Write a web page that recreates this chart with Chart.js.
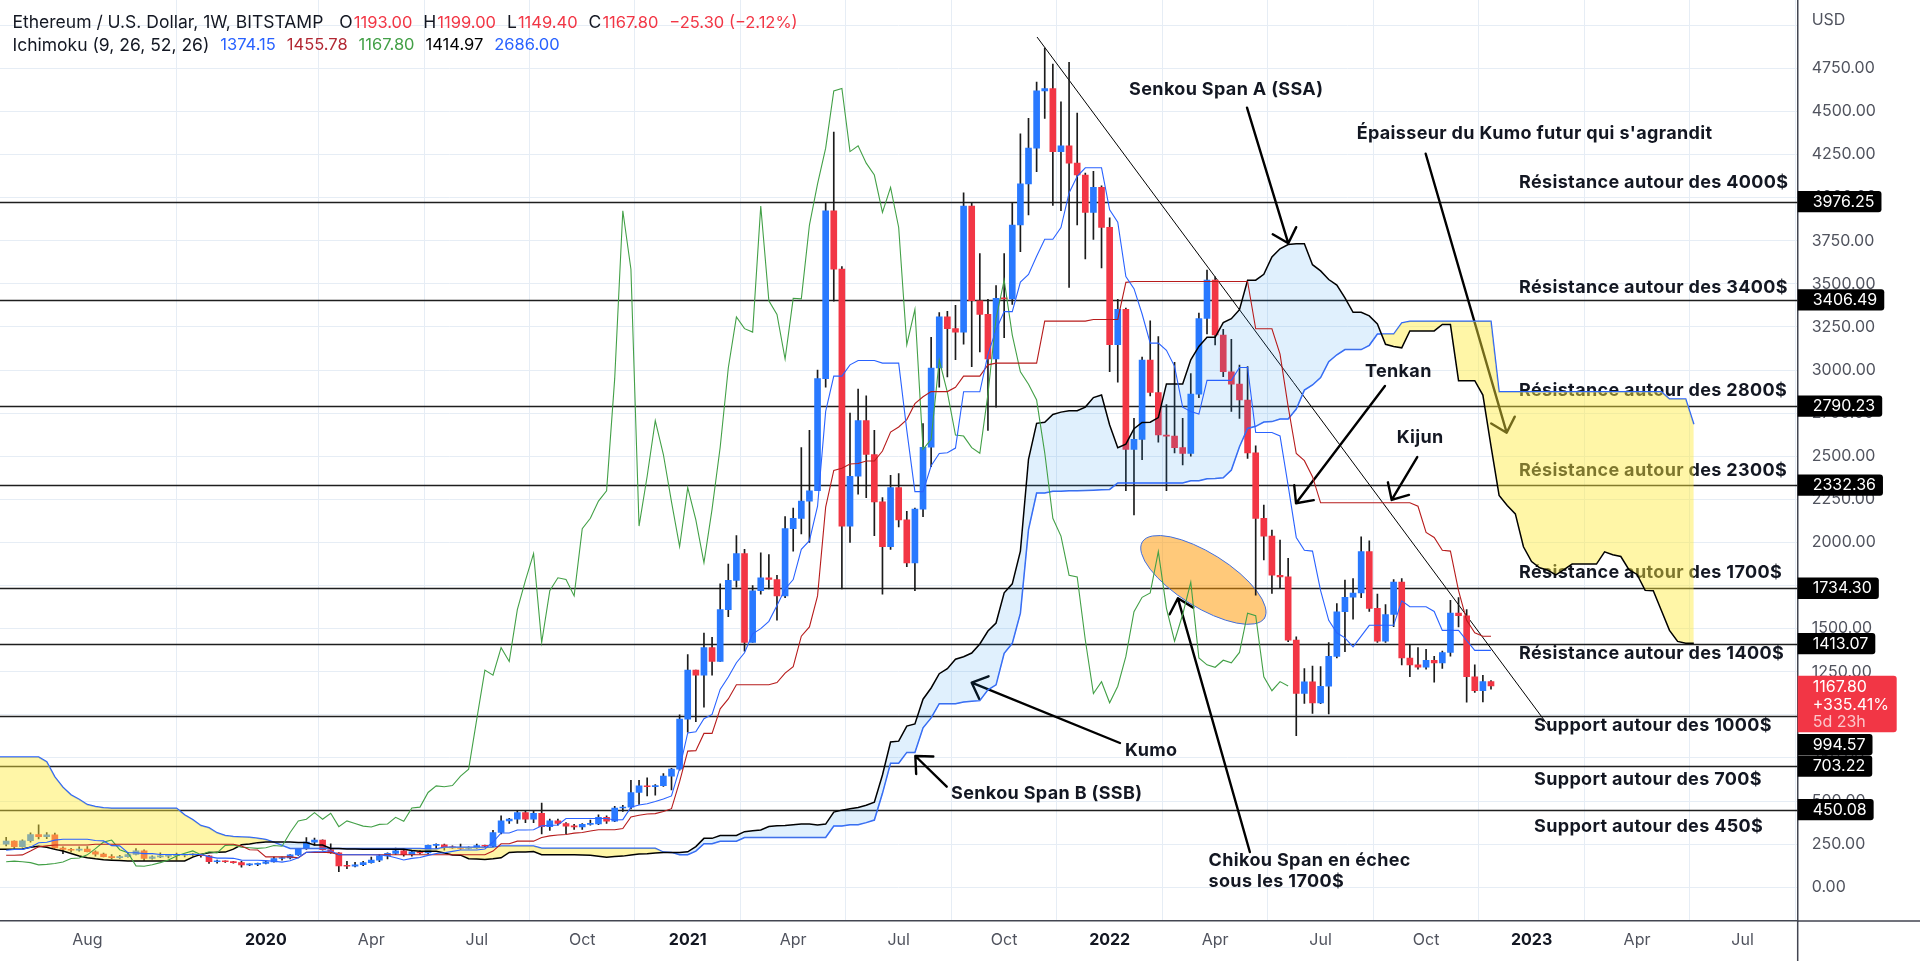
<!DOCTYPE html>
<html lang="fr">
<head>
<meta charset="utf-8">
<title>ETH/USD 1W Ichimoku</title>
<script src="https://cdn.jsdelivr.net/npm/chart.js@4.4.1/dist/chart.umd.min.js"></script>
<style>
html, body { margin: 0; padding: 0; background: #fff; overflow: hidden; }
canvas { display: block; }
</style>
</head>
<body>
<canvas id="eth" width="1920" height="961"></canvas>
<script>
// weekly candles ETH/USD (Bitstamp), week 0 = 27 May 2019, last = 28 Nov 2022
const opens = [
  250, 268, 236, 270, 306, 293, 305, 228, 220, 215,
  222, 206, 192, 178, 172, 178, 190, 212, 168, 176,
  180, 184, 186, 188, 190, 183, 148, 152, 148, 143,
  130, 133, 138, 147, 167, 170, 188, 224, 262, 274,
  218, 200, 124, 122, 131, 143, 158, 182, 197, 211,
  189, 206, 200, 243, 246, 233, 229, 226, 229, 242,
  238, 318, 385, 395, 433, 395, 429, 352, 385, 370,
  355, 350, 365, 367, 406, 383, 460, 465, 550, 588,
  583, 590, 645, 685, 975, 1260, 1230, 1390, 1310, 1610,
  1780, 1935, 1420, 1720, 1795, 1785, 1690, 2080, 2140, 2240,
  2300, 2950, 3924, 3585, 2095, 2384, 2707, 2510, 2235, 1976,
  2318, 2131, 1882, 2193, 2552, 3012, 3308, 3240, 3220, 3951,
  3402, 3323, 3064, 3416, 3413, 3841, 4080, 4287, 4619, 4633,
  4267, 4301, 4200, 4131, 3914, 4059, 3827, 3147, 3352, 2540,
  2598, 3058, 2870, 2623, 2617, 2550, 2517, 2860, 3299, 3522,
  3203, 2990, 2918, 2826, 2520, 2140, 2037, 1810, 1800, 1434,
  1124, 1192, 1070, 1166, 1339, 1598, 1682, 1707, 1947, 1618,
  1428, 1582, 1770, 1330, 1290, 1276, 1317, 1302, 1362, 1590,
  1575, 1221, 1140, 1193
]
const highs = [
  290, 270, 275, 316, 362, 318, 315, 235, 226, 235,
  236, 212, 198, 190, 185, 200, 225, 218, 182, 200,
  190, 198, 192, 197, 192, 185, 158, 153, 150, 150,
  136, 140, 150, 175, 175, 190, 225, 288, 285, 276,
  252, 202, 150, 145, 150, 175, 190, 200, 227, 215,
  215, 215, 245, 252, 250, 240, 250, 235, 250, 245,
  330, 415, 400, 445, 440, 440, 488, 395, 395, 375,
  365, 370, 390, 420, 415, 470, 475, 620, 620, 635,
  595, 660, 690, 1000, 1350, 1260, 1475, 1450, 1760, 1875,
  2040, 1960, 1750, 1940, 1930, 1810, 2150, 2200, 2550, 2650,
  3000, 3970, 4380, 3600, 2750, 2890, 2850, 2650, 2260, 2390,
  2400, 2180, 2200, 2690, 3190, 3333, 3340, 3375, 4028, 3970,
  3676, 3410, 3490, 3676, 3970, 4370, 4460, 4670, 4867, 4774,
  4556, 4784, 4490, 4142, 4152, 4069, 3883, 3410, 3360, 2720,
  3075, 3286, 3194, 2800, 3045, 2720, 2980, 3330, 3580, 3540,
  3236, 3178, 3029, 3020, 2560, 2217, 2072, 2014, 1908, 1453,
  1269, 1283, 1280, 1420, 1646, 1782, 1790, 2033, 2010, 1700,
  1640, 1785, 1790, 1405, 1390, 1380, 1340, 1370, 1665, 1680,
  1610, 1290, 1230, 1199
]
const lows = [
  240, 226, 232, 262, 280, 282, 225, 195, 205, 210,
  205, 180, 176, 165, 168, 175, 188, 155, 163, 172,
  170, 158, 176, 180, 175, 138, 140, 144, 140, 117,
  125, 126, 136, 145, 158, 165, 185, 220, 245, 215,
  196, 90, 108, 118, 125, 140, 148, 165, 190, 180,
  180, 193, 195, 225, 215, 225, 220, 222, 225, 230,
  235, 310, 370, 370, 375, 375, 310, 330, 360, 310,
  335, 335, 360, 363, 370, 380, 440, 455, 480, 530,
  535, 585, 565, 680, 900, 960, 1045, 1230, 1310, 1570,
  1740, 1370, 1420, 1700, 1730, 1550, 1680, 1950, 2050, 2000,
  2300, 2900, 3400, 1730, 2000, 2280, 2260, 2040, 1700, 1960,
  2090, 1860, 1720, 2150, 2440, 2900, 2960, 3060, 3150, 3020,
  3105, 2650, 2785, 3188, 3380, 3686, 3900, 4150, 4460, 3955,
  3924, 3479, 3841, 3644, 3758, 3593, 2991, 2930, 2300, 2160,
  2480, 2850, 2581, 2300, 2520, 2449, 2500, 2840, 3210, 3145,
  2962, 2760, 2720, 2488, 1695, 1898, 1705, 1734, 1424, 880,
  1066, 1008, 1065, 1006, 1330, 1366, 1555, 1680, 1600, 1420,
  1420, 1511, 1290, 1221, 1265, 1265, 1190, 1270, 1340, 1510,
  1073, 1130, 1075, 1149.4
]
const closes = [
  268, 236, 270, 306, 293, 305, 228, 220, 215, 222,
  206, 192, 178, 172, 178, 190, 212, 168, 176, 180,
  184, 186, 188, 190, 183, 148, 152, 148, 143, 130,
  133, 138, 147, 167, 170, 188, 224, 262, 274, 218,
  200, 124, 122, 131, 143, 158, 182, 197, 211, 189,
  206, 200, 243, 246, 233, 229, 226, 229, 242, 238,
  318, 385, 395, 433, 395, 429, 352, 385, 370, 355,
  350, 365, 367, 406, 383, 460, 465, 550, 588, 583,
  590, 645, 685, 975, 1260, 1230, 1390, 1310, 1610, 1780,
  1935, 1420, 1720, 1795, 1785, 1690, 2080, 2140, 2240, 2300,
  2950, 3924, 3585, 2095, 2384, 2707, 2510, 2235, 1976, 2318,
  2131, 1882, 2193, 2552, 3012, 3308, 3240, 3220, 3951, 3402,
  3323, 3064, 3416, 3413, 3841, 4080, 4287, 4619, 4633, 4267,
  4301, 4200, 4131, 3914, 4059, 3827, 3147, 3352, 2540, 2598,
  3058, 2870, 2623, 2617, 2550, 2517, 2860, 3299, 3522, 3203,
  2990, 2918, 2826, 2520, 2140, 2037, 1810, 1800, 1434, 1124,
  1192, 1070, 1166, 1339, 1598, 1682, 1707, 1947, 1618, 1428,
  1582, 1770, 1330, 1290, 1276, 1317, 1302, 1362, 1590, 1575,
  1221, 1140, 1193.1, 1167.8
]

// ichimoku lines as read on the chart
const tenkan = [
  215, 220, 220, 233, 258.5, 261, 273.5, 278.5, 278.5, 278.5,
  278.5, 271, 269, 241.5, 240, 200.5, 200.5, 195.5, 195.5, 190,
  190, 190, 190, 190, 190, 178, 169, 169, 168, 157.5,
  157, 157, 154.5, 151, 146, 153.5, 171, 202.5, 206.5, 207,
  212, 189, 189, 189, 189, 189, 187.5, 183, 171, 158.5,
  167.5, 172.5, 185, 196, 200, 208.5, 216, 216, 216, 222.5,
  262.5, 315, 315, 332.5, 332.5, 333.5, 356.5, 359, 361.5, 399,
  399, 399, 399, 399, 399, 390, 392.5, 465, 477.5, 485,
  497.5, 511.5, 530, 690, 895, 902.5, 977.5, 1002.5, 1147.5, 1220,
  1302.5, 1360, 1470, 1500, 1542.5, 1635, 1730, 1785, 1960, 2010,
  2210, 2760, 2965, 2965, 3030, 3055, 3055, 3055, 3040, 3040,
  3040, 2650, 2295, 2295, 2445, 2516.5, 2520, 2547.5, 2874, 2874,
  2874, 3089, 3234, 3339, 3339, 3510, 3555, 3660, 3758.5, 3758.5,
  3826, 4027.5, 4123.5, 4173, 4173, 4173, 3929, 3857, 3542, 3472,
  3325, 3156, 3156, 3114.5, 3021.5, 2785, 2760, 2745, 2940, 2940,
  2940, 2940, 3014.5, 3014.5, 2637.5, 2637.5, 2637.5, 2617.5, 2330, 2029,
  1954.5, 1950, 1720, 1548.5, 1476, 1447, 1394, 1456.5, 1519.5, 1519.5,
  1519.5, 1519.5, 1661.5, 1627, 1627, 1627, 1600, 1490, 1490, 1490,
  1431.5, 1374.15, 1374.15, 1374.15
]
const kijun = [
  186, 186, 188, 210, 235, 240, 245, 245, 245, 245,
  245, 250, 250, 250, 250, 250, 250, 250, 250, 250,
  250, 250, 250, 250, 250, 250, 250, 250, 250, 239.5,
  217.5, 216, 176.5, 176.5, 176.5, 176.5, 171, 202.5, 202.5, 202.5,
  202.5, 189, 189, 189, 189, 189, 189, 189, 189, 189,
  189, 189, 189, 189, 189, 189, 189, 189, 189, 189,
  210, 252.5, 252.5, 267.5, 267.5, 267.5, 289, 298, 303, 306.5,
  314, 318, 326.5, 334, 334, 334, 340.5, 407.5, 417.5, 425,
  427.5, 440, 456, 612.5, 790, 792.5, 892.5, 892.5, 1035, 1092.5,
  1175, 1175, 1175, 1175, 1175, 1187.5, 1242.5, 1280, 1456.5, 1510,
  1690, 2205, 2417.5, 2430, 2455, 2457.5, 2472.5, 2472.5, 2530, 2640,
  2670, 2712.5, 2805, 2845, 2875, 2875, 2875, 2900, 2965, 2965,
  2965, 3030, 3040, 3040, 3040, 3040, 3040, 3040, 3283.5, 3283.5,
  3283.5, 3283.5, 3283.5, 3283.5, 3293.5, 3293.5, 3293.5, 3293.5, 3508.5, 3513.5,
  3513.5, 3513.5, 3513.5, 3513.5, 3513.5, 3513.5, 3513.5, 3513.5, 3513.5, 3513.5,
  3513.5, 3513.5, 3513.5, 3513.5, 3239.5, 3239.5, 3239.5, 3092.5, 2788, 2516,
  2474.5, 2381.5, 2230, 2230, 2230, 2230, 2230, 2230, 2230, 2230,
  2230, 2230, 2230, 2230, 2210, 2058, 2029, 1954.5, 1950, 1720,
  1548.5, 1476, 1455.78, 1455.78
]
// leading spans, first value sits one week before the first candle
const spanA = [
  220,
  220, 220, 222, 232, 238, 232, 220, 210, 196, 182,
  172, 165, 160, 157, 155, 153, 153, 153, 153, 153,
  153, 153, 153, 175, 191, 200.5, 203, 204, 221.5, 246.8,
  250.5, 259, 262, 262, 262, 262, 260.5, 259.5, 245.8, 245,
  225, 225, 222.8, 222.8, 220, 220, 220, 220, 220, 220,
  214, 209.5, 209.5, 209, 198.5, 187, 186.5, 165.5, 163.8, 161,
  165, 171, 202.5, 204.5, 204.8, 207, 189, 189, 189, 189,
  189, 188, 186, 180, 173.8, 178, 180.8, 187, 192.5, 194.5,
  198.8, 202.5, 202.5, 202.5, 205.8, 236, 283.8, 283.8, 300, 300,
  300.5, 322.8, 328.5, 332, 352.8, 356.5, 358.5, 362.8, 366.5, 366.5,
  362, 366.5, 436, 447.5, 455, 462.5, 475.8, 493, 651, 842.5,
  847.5, 935, 947.5, 1091, 1156, 1238.8, 1267.5, 1322.5, 1337.5, 1358.8,
  1411, 1486, 1532.5, 1708, 1760, 1950, 2482.5, 2691, 2697.5, 2742.5,
  2756, 2764, 2764, 2785, 2840, 2855, 2681, 2550, 2570, 2660,
  2696, 2697.5, 2724, 2919.5, 2919.5, 2919.5, 3059.5, 3137, 3189.5, 3189.5,
  3275, 3297.5, 3350, 3521, 3521, 3555, 3655.5, 3703.5, 3728, 3733,
  3733, 3611, 3575, 3525, 3493, 3419, 3335, 3335, 3314, 3267.5,
  3149, 3137, 3129, 3227, 3227, 3227, 3227, 3264, 3264, 2938.5,
  2938.5, 2938.5, 2855, 2559, 2272.5, 2214.5, 2165.8, 1975, 1889, 1853,
  1838.5, 1812, 1843, 1874.8, 1874.8, 1874.8, 1874.8, 1945.8, 1928.5, 1918.5,
  1842.5, 1814.5, 1722, 1720, 1605, 1490, 1426, 1414.97, 1414.97
]
const spanB = [
  755,
  755, 755, 755, 755, 755, 728, 640, 580, 536, 510,
  480, 468, 462, 459, 459, 459, 459, 459, 459, 459,
  459, 459, 420, 392, 358, 345, 316, 300, 295, 292,
  290, 285, 277, 262, 243, 225, 225, 225, 225, 225,
  225, 225, 225, 225, 225, 225, 225, 225, 225, 225,
  225, 225, 222, 222.5, 232, 232, 232, 232, 232, 232,
  232, 239.5, 239.5, 239.5, 239.5, 239.5, 226, 226, 226, 226,
  226, 226, 226, 226, 226, 226, 226, 226, 226, 226,
  226, 204, 202.5, 189, 189, 210, 252.5, 252.5, 267.5, 267.5,
  267.5, 289, 289, 289, 289, 289, 289, 289, 289, 289,
  289, 289, 355, 355, 362.5, 362.5, 375, 390, 545, 720,
  720, 782.5, 782.5, 925, 982.5, 1065, 1065, 1065, 1074, 1079,
  1082.5, 1145, 1174, 1357.5, 1415, 1590, 2075, 2286.5, 2287.5, 2297.5,
  2297.5, 2300, 2300, 2301, 2302.5, 2305, 2307.5, 2345, 2345, 2345,
  2345, 2345, 2345, 2345, 2345, 2345, 2357.5, 2357.5, 2370, 2371.5,
  2375, 2420, 2555, 2661, 2673.5, 2698.5, 2701, 2716, 2716, 2773.5,
  2883.5, 2913.5, 2956, 3048.5, 3088.5, 3118.5, 3118.5, 3118.5, 3143.5, 3208.5,
  3208.5, 3208.5, 3273.5, 3283.5, 3283.5, 3283.5, 3283.5, 3283.5, 3283.5, 3283.5,
  3283.5, 3283.5, 3283.5, 3283.5, 2873.5, 2873.5, 2873.5, 2873.5, 2873.5, 2873.5,
  2873.5, 2873.5, 2873.5, 2873.5, 2873.5, 2873.5, 2873.5, 2873.5, 2873.5, 2873.5,
  2873.5, 2873.5, 2873.5, 2873.5, 2873.5, 2832, 2832, 2832, 2686
]
const spanStart = -1
const lagShift = 25

const monthTicks = [10, 32, 45, 58, 71, 84, 97, 110, 123, 136, 149, 162, 175, 188, 201, 214]
const monthLabels = ['Aug', '2020', 'Apr', 'Jul', 'Oct', '2021', 'Apr', 'Jul', 'Oct', '2022', 'Apr', 'Jul', 'Oct', '2023', 'Apr', 'Jul']
const priceTicks = [0, 250, 500, 750, 1000, 1250, 1500, 1750, 2000, 2250, 2500, 2750, 3000, 3250, 3500, 3750, 4000, 4250, 4500, 4750, 5000]

// horizontal levels and their notes
const levels = [3976.25, 3406.49, 2790.23, 2332.36, 1734.30, 1413.07, 994.57, 703.22, 450.08]
const levelNotes = [
  'Résistance autour des 4000$', 'Résistance autour des 3400$', 'Résistance autour des 2800$',
  'Résistance autour des 2300$', 'Résistance autour des 1700$', 'Résistance autour des 1400$',
  'Support autour des 1000$', 'Support autour des 700$', 'Support autour des 450$'
]
const notePrices = [4084.8, 3479.9, 2879.6, 2416.8, 1826.4, 1356.0, 935.5, 622.3, 352.6]
const noteWeeks = [186.45, 186.45, 186.45, 186.45, 186.45, 186.45, 188.3, 188.3, 188.3]

// free annotations [week, price]
const labels = [
  ['Senkou Span A (SSA)', 138.4, 4627.6],
  ["Épaisseur du Kumo futur qui s'agrandit", 166.44, 4368.5],
  ['Tenkan', 167.47, 2988.7],
  ['Kijun', 171.37, 2605.9],
  ['Kumo', 137.89, 792.8],
  ['Senkou Span B (SSB)', 116.45, 544.0],
  ['Chikou Span en échec', 148.19, 153.7],
  ['sous les 1700$', 148.19, 33.1]
]
// arrows [week0, price0, week1, price1], head at the second point
const arrows = [
  [152.93, 4521.5, 158.02, 3735.0],
  [174.95, 4254.7, 184.93, 2636.6],
  [169.93, 2908.0, 158.97, 2227.7],
  [173.91, 2495.1, 170.76, 2246.8],
  [137.27, 836.9, 119.0, 1186.6],
  [115.92, 583.5, 112.05, 761.5],
  [153.28, 204.7, 144.41, 1676.1]
]
const trendLine = [127.05, 4931.6, 190.27, 924.1]
const ellipseAt = [147.56, 1782.3]

const blue = '#2962ff'
const red = '#f23645'
const ink = '#131722'
const FONT = 'Inter, "Noto Sans", sans-serif'

const bodies = opens.map((o, i) => ({ x: i, y: [o, closes[i]] }))
const wicks = lows.map((l, i) => ({ x: i, y: [l, highs[i]] }))
const series = (arr, start) => arr.map((v, k) => ({ x: k + start, y: v }))
const lagging = closes.slice(lagShift).map((c, k) => ({ x: k, y: c }))

const isYear = c => !!(c && c.tick && /^\d/.test(monthLabels[monthTicks.indexOf(c.tick.value)] || ''))

function arrow(ctx, x0, y0, x1, y1) {
  const a = Math.atan2(y1 - y0, x1 - x0)
  const len = 18
  ctx.beginPath()
  ctx.moveTo(x0, y0)
  ctx.lineTo(x1, y1)
  ctx.moveTo(x1 - len * Math.cos(a - 0.75), y1 - len * Math.sin(a - 0.75))
  ctx.lineTo(x1, y1)
  ctx.lineTo(x1 - len * Math.cos(a + 0.75), y1 - len * Math.sin(a + 0.75))
  ctx.stroke()
}

function roundBox(ctx, x, y, w, h, r) {
  ctx.beginPath()
  ctx.moveTo(x, y)
  ctx.lineTo(x + w - r, y)
  ctx.quadraticCurveTo(x + w, y, x + w, y + r)
  ctx.lineTo(x + w, y + h - r)
  ctx.quadraticCurveTo(x + w, y + h, x + w - r, y + h)
  ctx.lineTo(x, y + h)
  ctx.closePath()
  ctx.fill()
}

const drawings = {
  id: 'drawings',
  beforeDatasetsDraw(chart) {
    const { ctx, chartArea: a, scales: { x, y } } = chart
    ctx.save()
    ctx.beginPath()
    ctx.rect(a.left, a.top, a.right - a.left, a.bottom - a.top)
    ctx.clip()

    ctx.strokeStyle = '#1e1e1e'
    ctx.lineWidth = 1.3
    levels.forEach(v => {
      const yy = Math.round(y.getPixelForValue(v)) + 0.5
      ctx.beginPath()
      ctx.moveTo(a.left, yy)
      ctx.lineTo(a.right, yy)
      ctx.stroke()
    })

    ctx.lineWidth = 1
    ctx.strokeStyle = '#000'
    ctx.beginPath()
    ctx.moveTo(x.getPixelForValue(trendLine[0]), y.getPixelForValue(trendLine[1]))
    ctx.lineTo(x.getPixelForValue(trendLine[2]), y.getPixelForValue(trendLine[3]))
    ctx.stroke()

    ctx.font = 'bold 18px ' + FONT
    ctx.letterSpacing = '0.35px'
    ctx.fillStyle = ink
    ctx.textBaseline = 'middle'
    ctx.textAlign = 'left'
    levelNotes.forEach((t, k) => {
      ctx.fillText(t, x.getPixelForValue(noteWeeks[k]), y.getPixelForValue(notePrices[k]))
    })
    labels.forEach(([t, w, p]) => {
      ctx.fillText(t, x.getPixelForValue(w), y.getPixelForValue(p))
    })
    ctx.letterSpacing = '0px'

    ctx.strokeStyle = '#000'
    ctx.lineWidth = 2.4
    ctx.lineCap = 'round'
    ctx.lineJoin = 'round'
    arrows.forEach(([w0, p0, w1, p1]) => {
      arrow(ctx, x.getPixelForValue(w0), y.getPixelForValue(p0), x.getPixelForValue(w1), y.getPixelForValue(p1))
    })

    ctx.beginPath()
    ctx.ellipse(x.getPixelForValue(ellipseAt[0]), y.getPixelForValue(ellipseAt[1]), 72, 27, 32 * Math.PI / 180, 0, Math.PI * 2)
    ctx.fillStyle = 'rgba(255, 152, 0, 0.52)'
    ctx.fill()
    ctx.strokeStyle = '#3f6fe0'
    ctx.lineWidth = 1
    ctx.stroke()
    ctx.restore()
  },
  afterDraw(chart) {
    const { ctx, chartArea: a, scales: { y } } = chart
    const W = chart.width, H = chart.height
    ctx.save()
    // axis borders carried to the canvas edges
    ctx.strokeStyle = '#434651'
    ctx.lineWidth = 1.5
    ctx.beginPath()
    ctx.moveTo(a.right, a.bottom)
    ctx.lineTo(W, a.bottom)
    ctx.moveTo(a.right, a.bottom)
    ctx.lineTo(a.right, H)
    ctx.stroke()

    ctx.font = '16px ' + FONT
    ctx.textBaseline = 'middle'
    ctx.textAlign = 'left'
    ctx.fillStyle = '#50535e'
    ctx.fillText('USD', a.right + 14, 20)

    // current price tag
    const last = closes.length - 1
    const cy = y.getPixelForValue(closes[last])
    const tagTop = cy - 10.3
    const tagBottom = tagTop + 56.6
    ctx.fillStyle = red
    roundBox(ctx, a.right, tagTop, 99, 56.6, 3)
    ctx.fillStyle = '#fff'
    ctx.fillText(closes[last].toFixed(2), a.right + 15, tagTop + 11.3)
    ctx.fillText('+335.41%', a.right + 15, tagTop + 30)
    ctx.fillStyle = 'rgba(255,255,255,0.72)'
    ctx.fillText('5d 23h', a.right + 15, tagTop + 47)

    // level tags
    levels.forEach(v => {
      let top = y.getPixelForValue(v) - 10.65
      if (top < tagBottom && top + 21.3 > tagTop) top = tagBottom + 1.7
      const t = v.toFixed(2)
      const w = ctx.measureText(t).width + 22
      ctx.fillStyle = '#000'
      roundBox(ctx, a.right, top, w, 21.3, 3)
      ctx.fillStyle = '#fff'
      ctx.fillText(t, a.right + 15, top + 11)
    })

    // legend: words a little larger than figures
    const wordFont = '17.5px ' + FONT
    const figFont = '16.5px ' + FONT
    const run = (parts, x0, yy) => {
      let xx = x0
      parts.forEach(([t, c, gap, f]) => {
        xx += gap
        ctx.font = f
        ctx.fillStyle = c
        ctx.fillText(t, xx, yy)
        xx += ctx.measureText(t).width
      })
    }
    const chg = closes[last] - closes[last - 1]
    const pct = chg / closes[last - 1] * 100
    const sgn = v => (v < 0 ? '\u2212' : '+') + Math.abs(v).toFixed(2)
    run([
      ['Ethereum / U.S. Dollar, 1W, BITSTAMP', ink, 0, wordFont],
      ['O', ink, 16, wordFont], [opens[last].toFixed(2), red, 1, figFont],
      ['H', ink, 11, wordFont], [highs[last].toFixed(2), red, 1, figFont],
      ['L', ink, 11, wordFont], [lows[last].toFixed(2), red, 1, figFont],
      ['C', ink, 11, wordFont], [closes[last].toFixed(2), red, 1, figFont],
      [sgn(chg) + ' (' + sgn(pct) + '%)', red, 11, figFont]
    ], 12.5, 22.7)
    run([
      ['Ichimoku (9, 26, 52, 26)', ink, 0, wordFont],
      [tenkan[last].toFixed(2), blue, 11, figFont],
      [kijun[last].toFixed(2), '#b22833', 11, figFont],
      [closes[last].toFixed(2), '#43a047', 11, figFont],
      [spanA[spanA.length - 1].toFixed(2), '#000', 11, figFont],
      [spanB[spanB.length - 1].toFixed(2), blue, 11, figFont]
    ], 12.5, 45.5)
    ctx.restore()
  }
}

new Chart(document.getElementById('eth'), {
  type: 'bar',
  data: {
    datasets: [
      { type: 'line', data: series(tenkan, 0), borderColor: blue, borderWidth: 1.1, pointRadius: 0 },
      { type: 'line', data: series(kijun, 0), borderColor: '#b71c1c', borderWidth: 1.1, pointRadius: 0 },
      { type: 'line', data: lagging, borderColor: '#43a047', borderWidth: 1.1, pointRadius: 0 },
      {
        type: 'line', data: series(spanA, spanStart), borderColor: '#000', borderWidth: 1.5, pointRadius: 0,
        fill: { target: 4, above: 'rgba(33, 150, 243, 0.14)', below: 'rgba(255, 235, 59, 0.45)' }
      },
      { type: 'line', data: series(spanB, spanStart), borderColor: blue, borderWidth: 1.5, pointRadius: 0 },
      {
        type: 'bar', data: bodies, grouped: false, barThickness: 6, minBarLength: 1, borderWidth: 0,
        backgroundColor: c => (closes[c.dataIndex] >= opens[c.dataIndex] ? '#2979ff' : red)
      },
      { type: 'bar', data: wicks, grouped: false, barThickness: 1, borderWidth: 0, backgroundColor: '#1b1b1b' }
    ]
  },
  options: {
    responsive: false,
    animation: false,
    devicePixelRatio: 1,
    layout: { padding: 0 },
    plugins: { legend: { display: false }, tooltip: { enabled: false } },
    scales: {
      x: {
        type: 'linear', min: -0.76, max: 220.8, offset: false,
        afterBuildTicks: s => { s.ticks = monthTicks.map(v => ({ value: v })) },
        afterFit: s => { s.height = 40; s.paddingLeft = 0; s.paddingRight = 0 },
        grid: { color: '#e6edf5', drawTicks: false },
        border: { color: '#434651', width: 1.5 },
        ticks: {
          autoSkip: false, maxRotation: 0, padding: 10,
          callback: v => monthLabels[monthTicks.indexOf(v)] || '',
          color: c => (isYear(c) ? ink : '#50535e'),
          font: c => ({ family: FONT, size: 16, weight: isYear(c) ? 'bold' : 'normal' })
        }
      },
      y: {
        type: 'linear', position: 'right', min: -195.5, max: 5146.2,
        afterBuildTicks: s => { s.ticks = priceTicks.map(v => ({ value: v })) },
        afterFit: s => { s.width = 122.3; s.paddingTop = 0; s.paddingBottom = 0 },
        grid: { color: '#e6edf5', drawTicks: false },
        border: { color: '#434651', width: 1.5 },
        ticks: {
          autoSkip: false, padding: 14, color: '#50535e',
          font: { family: FONT, size: 16 },
          callback: v => (v === 5000 ? '' : Number(v).toFixed(2))
        }
      }
    }
  },
  plugins: [drawings]
})
</script>
</body>
</html>
